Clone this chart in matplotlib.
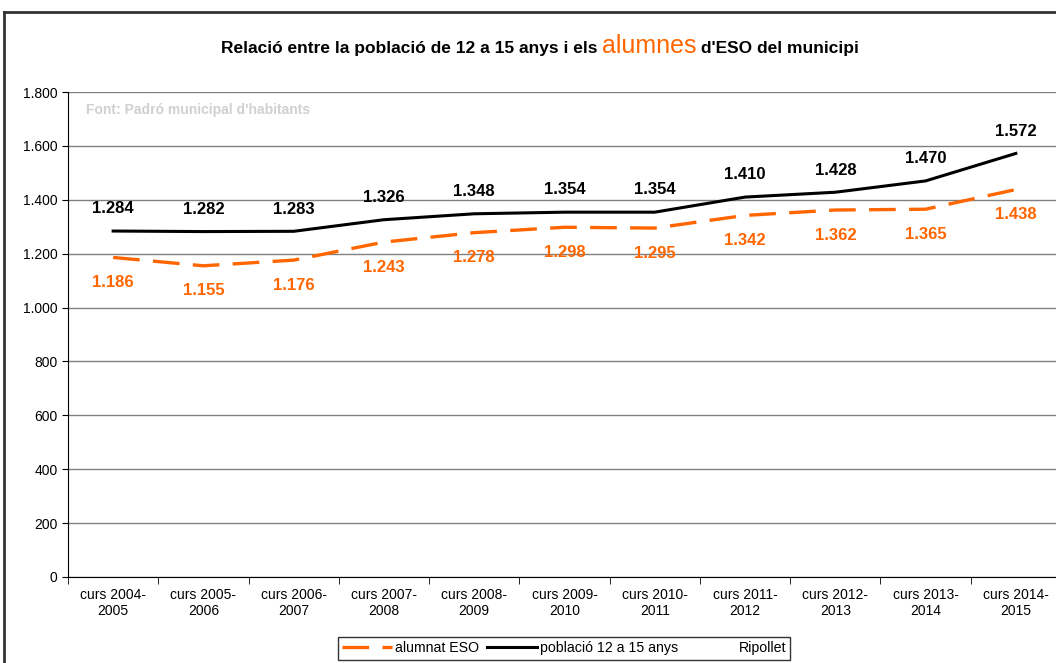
import matplotlib.pyplot as plt
from matplotlib.lines import Line2D
from matplotlib.ticker import FuncFormatter

plt.rcParams['font.family'] = ['Liberation Sans', 'DejaVu Sans']

cursos = ['curs 2004-\n2005', 'curs 2005-\n2006', 'curs 2006-\n2007', 'curs 2007-\n2008',
          'curs 2008-\n2009', 'curs 2009-\n2010', 'curs 2010-\n2011', 'curs 2011-\n2012',
          'curs 2012-\n2013', 'curs 2013-\n2014', 'curs 2014-\n2015']
alumnat = [1186, 1155, 1176, 1243, 1278, 1298, 1295, 1342, 1362, 1365, 1438]
poblacio = [1284, 1282, 1283, 1326, 1348, 1354, 1354, 1410, 1428, 1470, 1572]

orange = '#FF6600'

fig = plt.figure(figsize=(10.56, 6.63), dpi=100)
ax = fig.add_axes([68 / 1056, 1 - 577 / 663, 993 / 1056, 485 / 663])

x = list(range(len(cursos)))
l1, = ax.plot(x, alumnat, color=orange, lw=2.4, dashes=(8, 4), label='alumnat ESO')
l2, = ax.plot(x, poblacio, color='black', lw=2.2, label='població 12 a 15 anys')

def fmt(v):
    return f'{v:,.0f}'.replace(',', '.')

for xi, v in zip(x, poblacio):
    ax.annotate(fmt(v), (xi, v), xytext=(0, 16), textcoords='offset points',
                ha='center', va='center', fontsize=12, fontweight='bold', color='black')
for xi, v in zip(x, alumnat):
    ax.annotate(fmt(v), (xi, v), xytext=(0, -18), textcoords='offset points',
                ha='center', va='center', fontsize=12, fontweight='bold', color=orange)

ax.set_xlim(-0.5, len(cursos) - 0.5)
ax.set_ylim(0, 1800)
ax.set_yticks(range(0, 1801, 200))
ax.yaxis.set_major_formatter(FuncFormatter(lambda v, p: fmt(v)))
ax.set_xticks(x)
ax.set_xticklabels(cursos, fontsize=10)
ax.set_xticks([i - 0.5 for i in range(len(cursos) + 1)], minor=True)
ax.tick_params(axis='x', which='major', length=0, pad=8)
ax.tick_params(axis='x', which='minor', length=5, direction='out', color='black')
ax.tick_params(axis='y', length=4, direction='out', labelsize=10, color='black')
ax.grid(axis='y', color='#808080', lw=1)
ax.set_axisbelow(True)
for s in ['top', 'right']:
    ax.spines[s].set_visible(False)
ax.spines['left'].set_color('black')
ax.spines['bottom'].set_color('black')

# blurred source note in the top-left
ax.text(0.018, 0.962, 'Font: Padró municipal d\'habitants', transform=ax.transAxes,
        fontsize=10, fontweight='bold', color='#d0d0d0', va='center')

# title in three pieces
fig.canvas.draw()
r = fig.canvas.get_renderer()
parts = [('Relació entre la població de 12 a 15 anys i els ', 'black', 12.5, 'bold'),
         ('alumnes', orange, 18, 'normal'),
         (" d'ESO del municipi", 'black', 12.5, 'bold')]
texts = []
widths = []
for s, c, fs, fw in parts:
    t = fig.text(0, 0.5, s, color=c, fontsize=fs, fontweight=fw, va='baseline')
    texts.append(t)
    widths.append(t.get_window_extent(r).width)
xs = 540 - sum(widths) / 2
for t, w in zip(texts, widths):
    t.set_position((xs / 1056, 1 - 53 / 663))
    xs += w

# outer border
fig.add_artist(Line2D([4 / 1056, 1], [1 - 12 / 663] * 2, color='#333333', lw=2))
fig.add_artist(Line2D([4 / 1056] * 2, [0, 1 - 12 / 663], color='#333333', lw=2))

blank = Line2D([], [], color='none')
leg = fig.legend([l1, l2, blank], ['alumnat ESO', 'població 12 a 15 anys', 'Ripollet'],
                 loc='upper left', bbox_to_anchor=(338 / 1056, 1 - 637 / 663), ncol=3,
                 fontsize=10.2, frameon=True, fancybox=False, edgecolor='black',
                 handlelength=3.5, handletextpad=0.2, columnspacing=0.6, borderaxespad=0,
                 borderpad=0.3)
leg.get_frame().set_linewidth(1)

fig.savefig('out.png', dpi=100)
